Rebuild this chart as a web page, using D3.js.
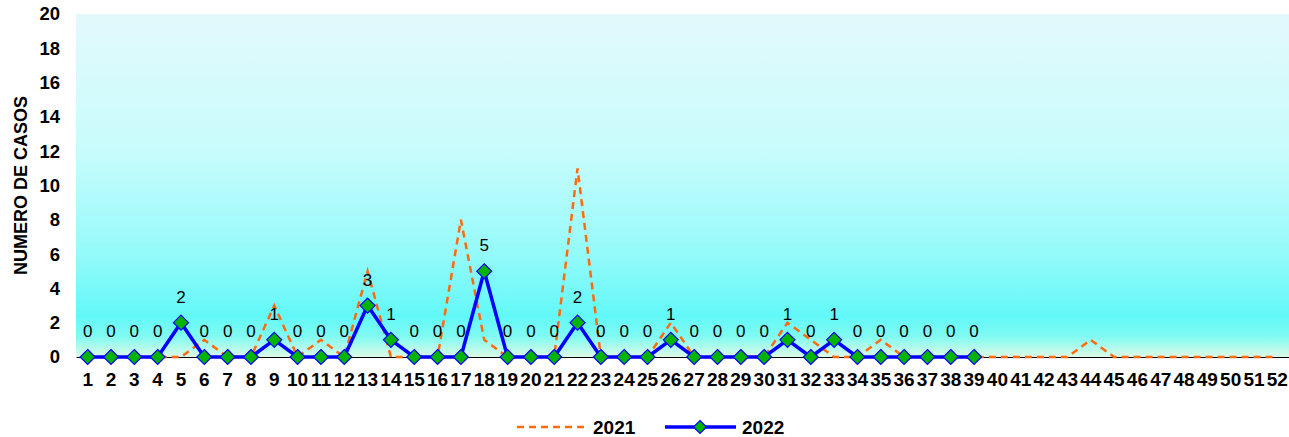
<!DOCTYPE html>
<html><head><meta charset="utf-8">
<script src="https://cdn.jsdelivr.net/npm/d3@7"></script>
<style>body{margin:0;background:#fff}svg{display:block}text{font-family:Arial,"Liberation Sans",sans-serif}</style>
</head><body><svg id="c" width="1289" height="437"></svg>
<script>
const weeks = d3.range(1, 53);
const series2021 = [0,0,0,0,0,1,0,0,3,0,1,0,5,0,0,0,8,1,0,0,0,11,0,0,0,2,0,0,0,0,2,1,0,0,1,0,0,0,0,0,0,0,0,1,0,0,0,0,0,0,0,0];
const series2022 = [0,0,0,0,2,0,0,0,1,0,0,0,3,1,0,0,0,5,0,0,0,2,0,0,0,1,0,0,0,0,1,0,1,0,0,0,0,0,0];
const yTicks = [0,2,4,6,8,10,12,14,16,18,20];
const legendLabels = ["2021","2022"];
const yTitle = "NUMERO DE CASOS";

const svg = d3.select("#c");
const m = {l:76, r:1289, t:14, b:357};
const x = d3.scaleBand().domain(weeks).range([m.l, m.r]);
const xc = d => x(d) + x.bandwidth()/2;
const y = d3.scaleLinear().domain([0,20]).range([m.b, m.t]);

const defs = svg.append("defs");
const g = defs.append("linearGradient").attr("id","bg").attr("x1",0).attr("y1",0).attr("x2",0).attr("y2",1);
[[0,"#e3f9fc"],[0.4,"#c8fcfc"],[0.7,"#95fafa"],[0.88,"#62f8f8"],[0.94,"#80faf2"],[1,"#dcfbe6"]].forEach(s=>g.append("stop").attr("offset",s[0]).attr("stop-color",s[1]));
svg.append("rect").attr("x",m.l).attr("y",m.t).attr("width",m.r-m.l).attr("height",m.b-m.t).attr("fill","url(#bg)");

// y axis
const ya = svg.append("g").attr("transform",`translate(${m.l},0)`).call(d3.axisLeft(y).tickValues(yTicks).tickSize(0).tickPadding(16));
ya.select(".domain").remove();
ya.selectAll("text").attr("font-size",18.5).attr("font-weight","bold").attr("fill","#000").attr("font-family","Arial");

// x axis
const xa = svg.append("g").attr("transform",`translate(0,${m.b})`).call(d3.axisBottom(x).tickSize(0).tickPadding(16));
xa.select(".domain").attr("stroke","#000").attr("stroke-width",1.2);
xa.selectAll("text").attr("font-size",19).attr("font-weight","bold").attr("fill","#000").attr("font-family","Arial");

svg.append("text").attr("transform",`translate(27,${(m.t+m.b)/2}) rotate(-90)`).attr("text-anchor","middle")
  .attr("font-size",18).attr("font-weight","bold").text(yTitle);

const line = d3.line().x((d,i)=>xc(weeks[i])).y(d=>y(d));
svg.append("path").datum(series2021).attr("d",line).attr("fill","none").attr("stroke","#ff6a0e").attr("stroke-width",2.5).attr("stroke-dasharray","7,5");
svg.append("path").datum(series2022).attr("d",line).attr("fill","none").attr("stroke","#0000ff").attr("stroke-width",3.5).attr("stroke-linejoin","round");

const diamond = s => `M0,${-s}L${s},0L0,${s}L${-s},0Z`;
svg.selectAll(".mk").data(series2022).join("path").attr("class","mk")
  .attr("transform",(d,i)=>`translate(${xc(weeks[i])},${y(d)})`).attr("d",diamond(7.5))
  .attr("fill","#00b400").attr("stroke","#0000ff").attr("stroke-width",1.2);

svg.selectAll(".lb").data(series2022).join("text").attr("class","lb")
  .attr("x",(d,i)=>xc(weeks[i])).attr("y",d=>y(d)-20).attr("text-anchor","middle")
  .attr("font-size",17).attr("fill","#000").text(d=>d);

// legend
const lg = svg.append("g");
lg.append("line").attr("x1",517).attr("x2",587).attr("y1",427).attr("y2",427).attr("stroke","#ff6a0e").attr("stroke-width",2.5).attr("stroke-dasharray","7,5");
lg.append("text").attr("x",593).attr("y",434).attr("font-size",19).attr("font-weight","bold").text(legendLabels[0]);
lg.append("line").attr("x1",665).attr("x2",736).attr("y1",427).attr("y2",427).attr("stroke","#0000ff").attr("stroke-width",3.5);
lg.append("path").attr("transform","translate(700,427)").attr("d",diamond(6.5)).attr("fill","#00b400").attr("stroke","#0000ff").attr("stroke-width",1.2);
lg.append("text").attr("x",742).attr("y",434).attr("font-size",19).attr("font-weight","bold").text(legendLabels[1]);
</script></body></html>
